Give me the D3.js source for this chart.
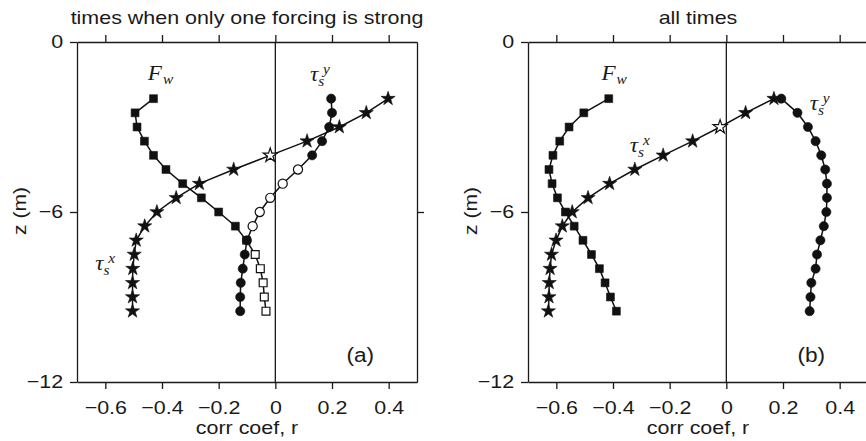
<!DOCTYPE html>
<html>
<head>
<meta charset="utf-8">
<script src="https://cdn.jsdelivr.net/npm/d3@7"></script>
<style>
  body { margin: 0; background: #fff; }
  text { font-family: "Liberation Sans", Arial, sans-serif; fill: #1a1a1a; }
  .math { font-family: "Liberation Serif", "Times New Roman", serif; font-style: italic; }
</style>
</head>
<body>
<div id="chart"></div>
<script>
// depth levels (m)
var depth = [-2, -2.5, -3, -3.5, -4, -4.5, -5, -5.5, -6, -6.5, -7, -7.5, -8, -8.5, -9, -9.5];

// panel (a): times when only one forcing is strong
var fwA   = [-0.43, -0.495, -0.488, -0.462, -0.43, -0.386, -0.327, -0.261, -0.2, -0.141, -0.102, -0.071, -0.053, -0.043, -0.039, -0.033];
var fwAOpen = [0, 0, 0, 0, 0, 0, 0, 0, 0, 0, 0, 1, 1, 1, 1, 1];
var tyA   = [0.197, 0.2, 0.19, 0.165, 0.13, 0.08, 0.026, -0.018, -0.055, -0.08, -0.1, -0.108, -0.115, -0.122, -0.124, -0.124];
var tyAOpen = [0, 0, 0, 0, 0, 1, 1, 1, 1, 1, 0, 0, 0, 0, 0, 0];
var txA   = [0.398, 0.321, 0.226, 0.112, -0.018, -0.147, -0.268, -0.35, -0.418, -0.461, -0.491, -0.498, -0.503, -0.504, -0.504, -0.504];
var txAOpen = [0, 0, 0, 0, 1, 0, 0, 0, 0, 0, 0, 0, 0, 0, 0, 0];

// panel (b): all times
var fwB   = [-0.415, -0.503, -0.555, -0.588, -0.612, -0.626, -0.615, -0.596, -0.568, -0.537, -0.506, -0.476, -0.448, -0.428, -0.409, -0.388];
var fwBOpen = [0, 0, 0, 0, 0, 0, 0, 0, 0, 0, 0, 0, 0, 0, 0, 0];
var tyB   = [0.194, 0.251, 0.288, 0.315, 0.335, 0.349, 0.355, 0.355, 0.353, 0.344, 0.332, 0.32, 0.315, 0.3, 0.297, 0.294];
var tyBOpen = [0, 0, 0, 0, 0, 0, 0, 0, 0, 0, 0, 0, 0, 0, 0, 0];
var txB   = [0.168, 0.068, -0.022, -0.119, -0.223, -0.323, -0.412, -0.488, -0.544, -0.579, -0.601, -0.617, -0.622, -0.625, -0.626, -0.628];
var txBOpen = [0, 0, 1, 0, 0, 0, 0, 0, 0, 0, 0, 0, 0, 0, 0, 0];

// ticks
var xTicks = [-0.6, -0.4, -0.2, 0, 0.2, 0.4];
var zTicks = [0, -6, -12];
var xDomain = [-0.7, 0.5];
var zDomain = [-12, 0];

var titles = ["times when only one forcing is strong", "all times"];
var tags = ["(a)", "(b)"];

var svgWidth = 866, svgHeight = 441;
var plotTop = 42, plotBottom = 382;
var stretch = 1.16;   // text in the figure is wide for its height
var fs = 18.5;

var svg = d3.select("#chart").append("svg")
  .attr("width", svgWidth)
  .attr("height", svgHeight);

var panels = [
  {
    left: 77, right: 417, title: titles[0], tag: tags[0],
    series: [
      { vals: tyA, open: tyAOpen, sym: d3.symbolCircle, size: 66 },
      { vals: fwA, open: fwAOpen, sym: d3.symbolSquare, size: 62 },
      { vals: txA, open: txAOpen, sym: d3.symbolStar, size: 62 }
    ],
    labels: [
      { kind: "F", x: -0.45, z: -1.34 },
      { kind: "ty", x: 0.122, z: -1.38 },
      { kind: "tx", x: -0.636, z: -8.05 }
    ]
  },
  {
    left: 528, right: 868, title: titles[1], tag: tags[1],
    series: [
      { vals: fwB, open: fwBOpen, sym: d3.symbolSquare, size: 62 },
      { vals: tyB, open: tyBOpen, sym: d3.symbolCircle, size: 66 },
      { vals: txB, open: txBOpen, sym: d3.symbolStar, size: 62 }
    ],
    labels: [
      { kind: "F", x: -0.441, z: -1.34 },
      { kind: "ty", x: 0.294, z: -2.4 },
      { kind: "tx", x: -0.341, z: -3.88 }
    ]
  }
];

var fmt = function(d) { return d === 0 ? "0" : d3.format(".1f")(d); };
var fmtZ = function(d) { return d3.format("d")(d); };

panels.forEach(function(p) {
  var x = d3.scaleLinear().domain(xDomain).range([p.left, p.right]);
  var y = d3.scaleLinear().domain(zDomain).range([plotBottom, plotTop]);
  var g = svg.append("g");

  // zero line
  g.append("line")
    .attr("x1", x(0)).attr("x2", x(0))
    .attr("y1", y(0)).attr("y2", y(-12))
    .attr("stroke", "#1a1a1a").attr("stroke-width", 1.3);

  // axes
  var xb = g.append("g").attr("transform", `translate(0,${plotBottom})`)
    .call(d3.axisBottom(x).tickValues(xTicks).tickFormat(fmt).tickSize(7).tickSizeOuter(0).tickPadding(12));
  var xt = g.append("g").attr("transform", `translate(0,${plotTop})`)
    .call(d3.axisTop(x).tickValues(xTicks).tickFormat("").tickSize(7).tickSizeOuter(0));
  var yl = g.append("g").attr("transform", `translate(${p.left},0)`)
    .call(d3.axisLeft(y).tickValues(zTicks).tickFormat(fmtZ).tickSize(7).tickSizeOuter(0).tickPadding(5));
  var yr = g.append("g").attr("transform", `translate(${p.right},0)`)
    .call(d3.axisRight(y).tickValues([-6]).tickFormat("").tickSize(7).tickSizeOuter(0));

  [xb, xt, yl, yr].forEach(function(a) {
    a.attr("font-family", null).attr("font-size", null);
    a.selectAll("path, line").attr("stroke", "#1a1a1a").attr("stroke-width", 1.3);
    a.selectAll("text")
      .attr("fill", "#1a1a1a")
      .style("font-size", fs + "px")
      .attr("transform", `scale(${stretch},1)`);
  });

  // title
  g.append("text")
    .attr("transform", `translate(${(p.left + p.right) / 2},24) scale(${stretch},1)`)
    .attr("text-anchor", "middle")
    .style("font-size", fs + "px")
    .text(p.title);

  // x label
  g.append("text")
    .attr("transform", `translate(${x(-0.1)},434) scale(${stretch},1)`)
    .attr("text-anchor", "middle")
    .style("font-size", fs + "px")
    .text("corr coef, r");

  // y label
  g.append("text")
    .attr("transform", `translate(${p.left - 51},211) rotate(-90) scale(1.14,1)`)
    .attr("text-anchor", "middle")
    .style("font-size", fs + "px")
    .text("z (m)");

  // panel tag
  g.append("text")
    .attr("transform", `translate(${x(0.3)},${y(-11.28)}) scale(${stretch},1)`)
    .attr("text-anchor", "middle")
    .style("font-size", "19.5px")
    .text(p.tag);

  // series
  var line = d3.line()
    .x(function(d) { return x(d[0]); })
    .y(function(d) { return y(d[1]); });

  p.series.forEach(function(s) {
    var pts = s.vals.map(function(v, i) { return [v, depth[i], s.open[i]]; });
    g.append("path")
      .datum(pts)
      .attr("d", line)
      .attr("fill", "none")
      .attr("stroke", "#111")
      .attr("stroke-width", 1.5);
    g.selectAll(null)
      .data(pts)
      .enter()
      .append("path")
      .attr("d", d3.symbol().type(s.sym).size(s.size))
      .attr("transform", function(d) { return `translate(${x(d[0])},${y(d[1])})`; })
      .attr("fill", function(d) { return d[2] ? "#fff" : "#111"; })
      .attr("stroke", "#111")
      .attr("stroke-width", function(d) { return d[2] ? 1.2 : 0.6; });
  });

  // curve labels
  p.labels.forEach(function(l) {
    var t = g.append("text")
      .attr("class", "math")
      .attr("transform", `translate(${x(l.x)},${y(l.z)}) scale(1.1,1)`)
      .style("font-size", "21px");
    if (l.kind === "F") {
      t.append("tspan").text("F");
      t.append("tspan").attr("dy", 4).attr("dx", 1).style("font-size", "14px").text("w");
    } else {
      t.append("tspan").text("τ");
      t.append("tspan").attr("dy", 5).attr("dx", 0).style("font-size", "14px").text("s");
      t.append("tspan").attr("dy", -12).attr("dx", -1).style("font-size", "14px")
        .text(l.kind === "ty" ? "y" : "x");
    }
  });
});
</script>
</body>
</html>
